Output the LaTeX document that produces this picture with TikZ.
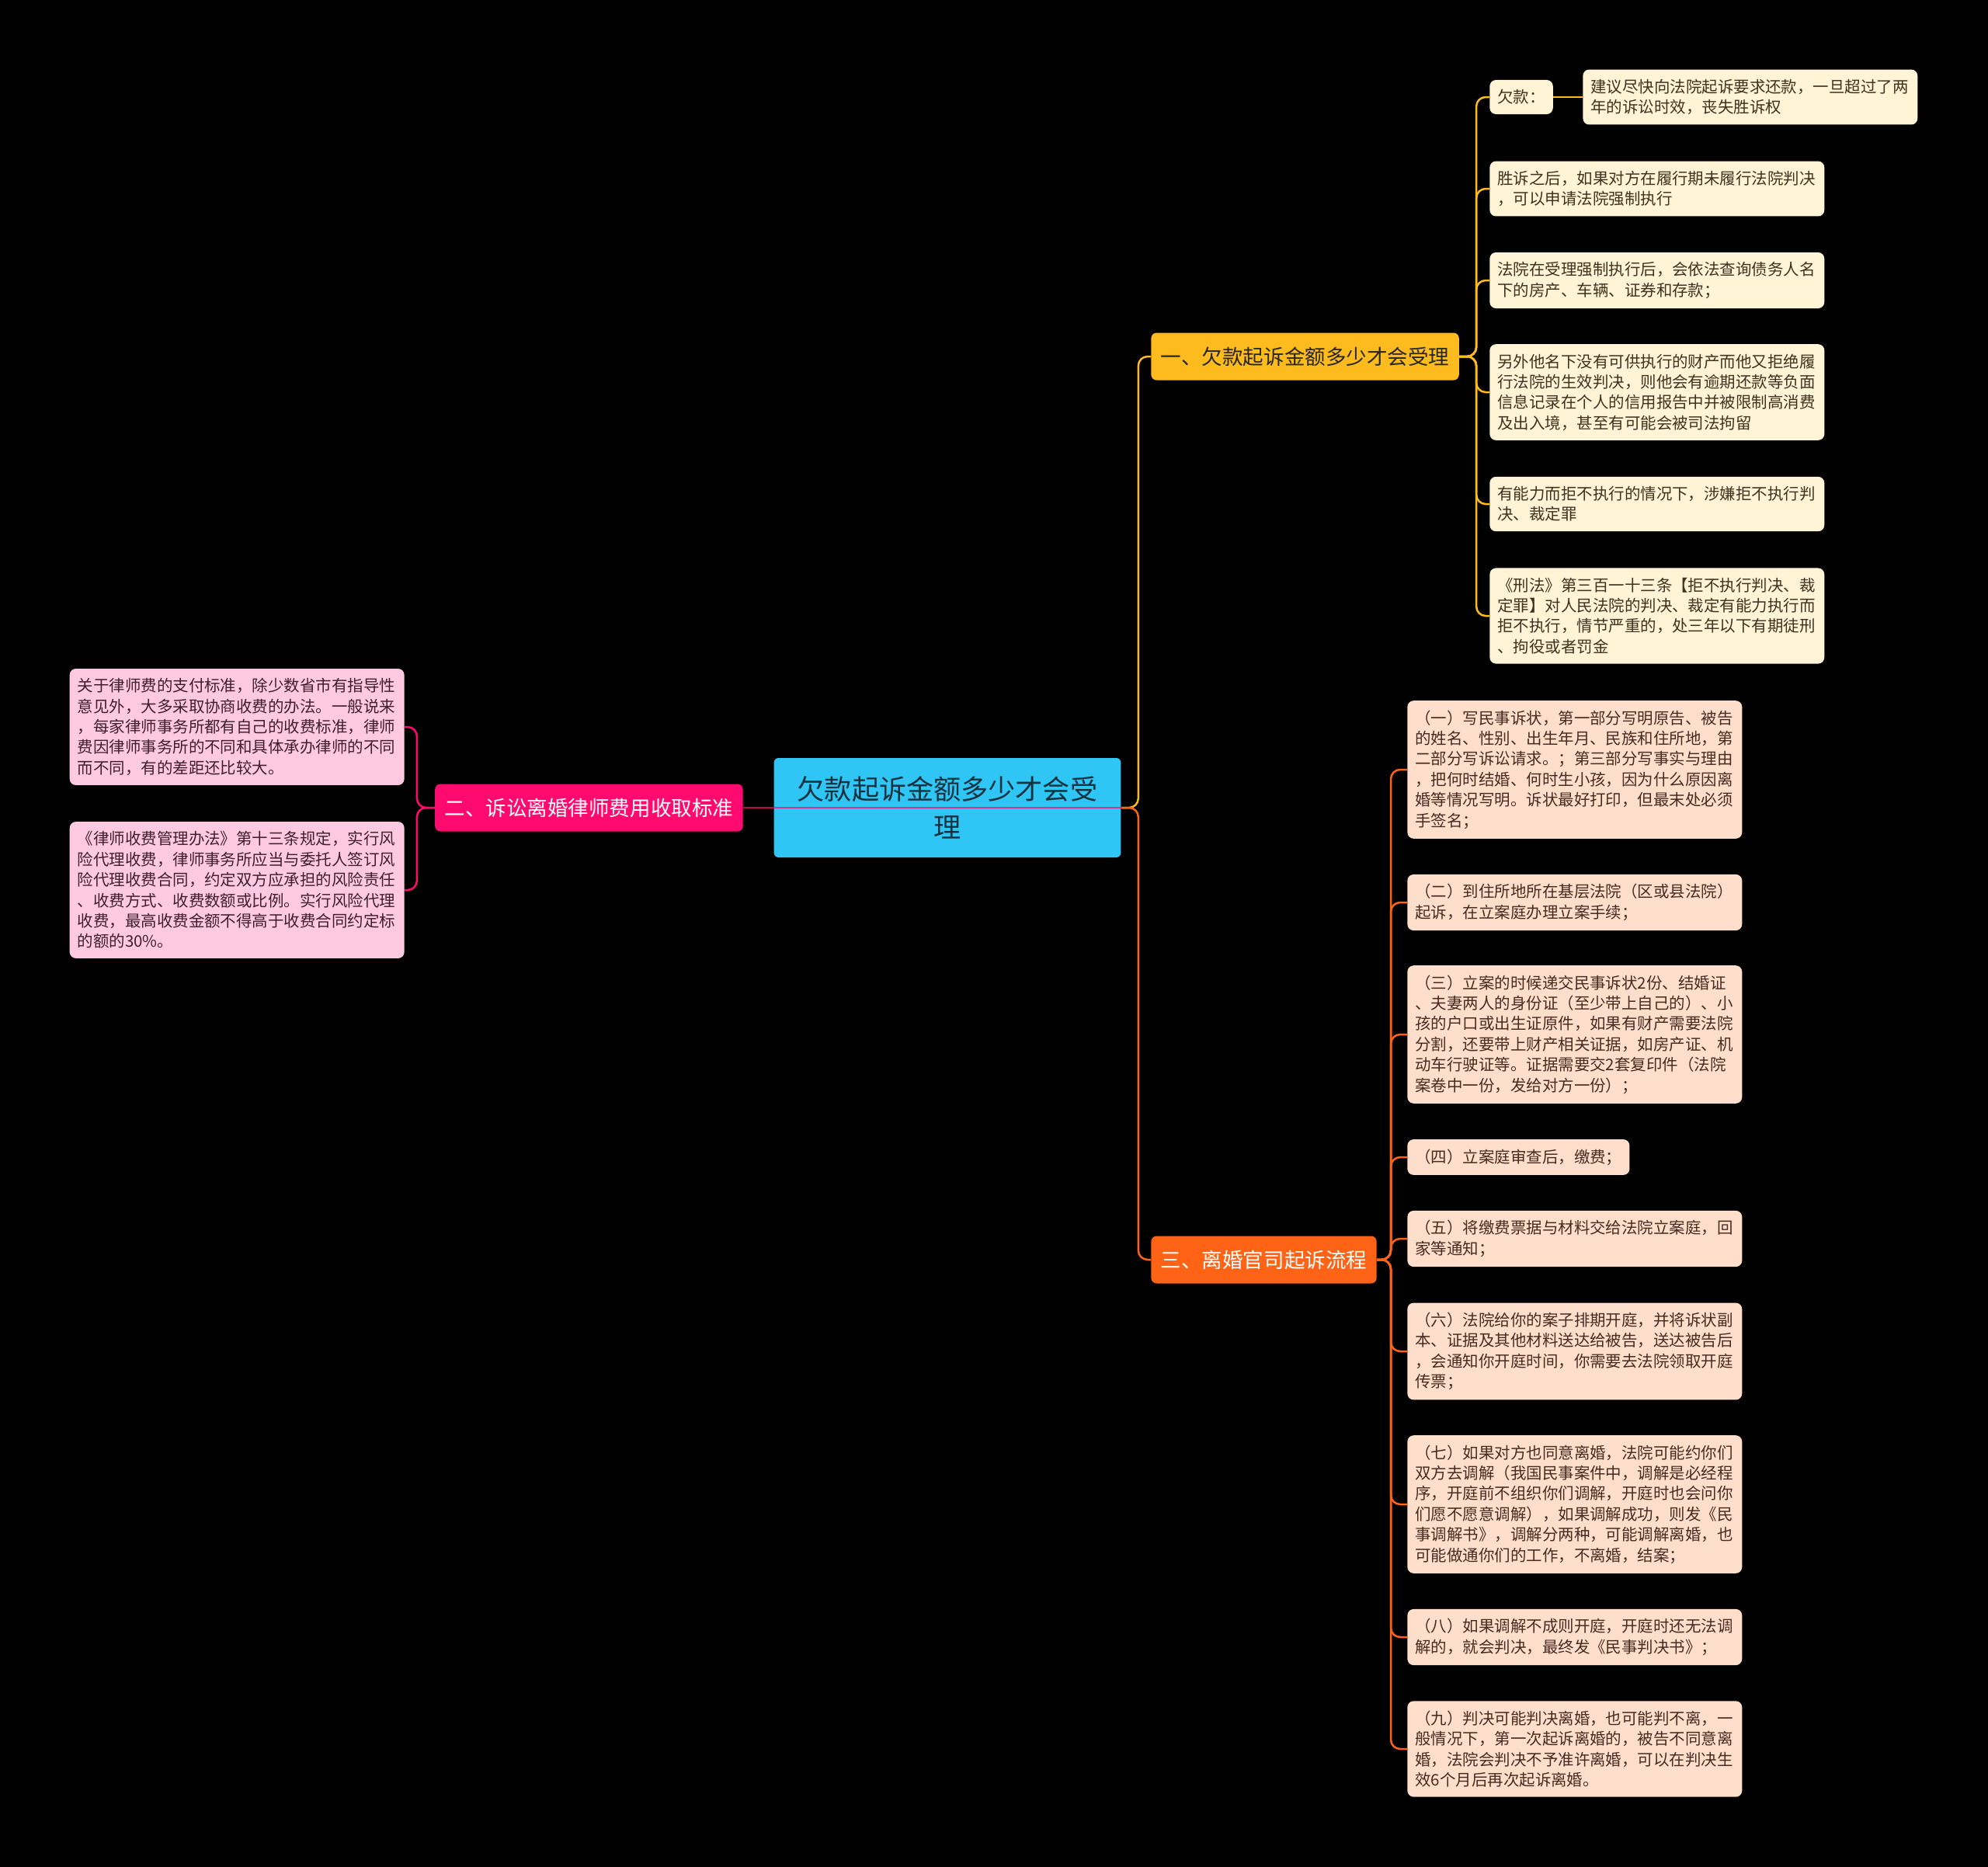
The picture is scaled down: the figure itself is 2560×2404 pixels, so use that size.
\documentclass[tikz,border=0pt]{standalone}
\usepackage{fontspec}
\newfontfamily\cjk{Noto Sans CJK SC}
\definecolor{rootfill}{HTML}{2FC6F5}
\definecolor{roottext}{HTML}{17323F}
\definecolor{onefill}{HTML}{FDBB1E}
\definecolor{twofill}{HTML}{FF0A6E}
\definecolor{threefill}{HTML}{FF6316}
\definecolor{oneleaf}{HTML}{FFF4D6}
\definecolor{twoleaf}{HTML}{FFC9E2}
\definecolor{threeleaf}{HTML}{FFDFCC}
\definecolor{onetext}{HTML}{3D3320}
\definecolor{twotext}{HTML}{3F1F2F}
\definecolor{threetext}{HTML}{4A2A20}

\tikzset{
  leaf/.style={rounded corners=0.16cm, inner xsep=0.2cm, inner ysep=0.25cm,
    align=left, anchor=west, font=\cjk\fontsize{11.65}{15}\selectfont},
  wideleaf/.style={leaf, text width=8.22cm},
  branch/.style={rounded corners=0.14cm, inner xsep=0.25cm, minimum height=1.22cm,
    anchor=west, font=\cjk\fontsize{15.1}{18}\selectfont},
  conn/.style={line width=0.05cm, rounded corners=0.24cm},
}

\begin{document}
\begin{tikzpicture}[x=0.02cm,y=-0.02cm]
\fill[black] (0,0) rectangle (2560,2404);
\useasboundingbox (0,0) rectangle (2560,2404);

% root and main branches
\node[fill=rootfill, text=roottext, rounded corners=0.12cm, minimum width=8.94cm,
  minimum height=2.56cm, align=center, font=\cjk\fontsize{20}{27.8}\selectfont]
  (root) at (1220,1040) {欠款起诉金额多少才会受\\理};
\node[branch, fill=onefill, text=black!85] (b1) at (1482,459) {一、欠款起诉金额多少才会受理};
\node[branch, fill=twofill, text=white, anchor=east] (b2) at (957,1040) {二、诉讼离婚律师费用收取标准};
\node[branch, fill=threefill, text=white] (b3) at (1482,1622) {三、离婚官司起诉流程};

% branch one
\node[leaf, fill=oneleaf, text=onetext] (q1) at (1918,125) {欠款：};
\node[wideleaf, fill=oneleaf, text=onetext] (q1a) at (2038,125) {建议尽快向法院起诉要求还款，一旦超过了两\\年的诉讼时效，丧失胜诉权};
\node[wideleaf, fill=oneleaf, text=onetext] (q2) at (1918,243) {胜诉之后，如果对方在履行期未履行法院判决\\，可以申请法院强制执行};
\node[wideleaf, fill=oneleaf, text=onetext] (q3) at (1918,361) {法院在受理强制执行后，会依法查询债务人名\\下的房产、车辆、证券和存款；};
\node[wideleaf, fill=oneleaf, text=onetext] (q4) at (1918,505) {另外他名下没有可供执行的财产而他又拒绝履\\行法院的生效判决，则他会有逾期还款等负面\\信息记录在个人的信用报告中并被限制高消费\\及出入境，甚至有可能会被司法拘留};
\node[wideleaf, fill=oneleaf, text=onetext] (q5) at (1918,649) {有能力而拒不执行的情况下，涉嫌拒不执行判\\决、裁定罪};
\node[wideleaf, fill=oneleaf, text=onetext] (q6) at (1918,793) {《刑法》第三百一十三条【拒不执行判决、裁\\定罪】对人民法院的判决、裁定有能力执行而\\拒不执行，情节严重的，处三年以下有期徒刑\\、拘役或者罚金};

% branch two
\node[wideleaf, fill=twoleaf, text=twotext, anchor=east] (f1) at (521,936) {关于律师费的支付标准，除少数省市有指导性\\意见外，大多采取协商收费的办法。一般说来\\，每家律师事务所都有自己的收费标准，律师\\费因律师事务所的不同和具体承办律师的不同\\而不同，有的差距还比较大。};
\node[wideleaf, fill=twoleaf, text=twotext, anchor=east] (f2) at (521,1146) {《律师收费管理办法》第十三条规定，实行风\\险代理收费，律师事务所应当与委托人签订风\\险代理收费合同，约定双方应承担的风险责任\\、收费方式、收费数额或比例。实行风险代理\\收费，最高收费金额不得高于收费合同约定标\\的额的30\%。};

% branch three
\node[wideleaf, fill=threeleaf, text=threetext] (s1) at (1812,991) {（一）写民事诉状，第一部分写明原告、被告\\的姓名、性别、出生年月、民族和住所地，第\\二部分写诉讼请求。；第三部分写事实与理由\\，把何时结婚、何时生小孩，因为什么原因离\\婚等情况写明。诉状最好打印，但最末处必须\\手签名；};
\node[wideleaf, fill=threeleaf, text=threetext] (s2) at (1812,1162) {（二）到住所地所在基层法院（区或县法院）\\起诉，在立案庭办理立案手续；};
\node[wideleaf, fill=threeleaf, text=threetext] (s3) at (1812,1332) {（三）立案的时候递交民事诉状2份、结婚证\\、夫妻两人的身份证（至少带上自己的）、小\\孩的户口或出生证原件，如果有财产需要法院\\分割，还要带上财产相关证据，如房产证、机\\动车行驶证等。证据需要交2套复印件（法院\\案卷中一份，发给对方一份）；};
\node[leaf, fill=threeleaf, text=threetext] (s4) at (1812,1490) {（四）立案庭审查后，缴费；};
\node[wideleaf, fill=threeleaf, text=threetext] (s5) at (1812,1595) {（五）将缴费票据与材料交给法院立案庭，回\\家等通知；};
\node[wideleaf, fill=threeleaf, text=threetext] (s6) at (1812,1740) {（六）法院给你的案子排期开庭，并将诉状副\\本、证据及其他材料送达给被告，送达被告后\\，会通知你开庭时间，你需要去法院领取开庭\\传票；};
\node[wideleaf, fill=threeleaf, text=threetext] (s7) at (1812,1937) {（七）如果对方也同意离婚，法院可能约你们\\双方去调解（我国民事案件中，调解是必经程\\序，开庭前不组织你们调解，开庭时也会问你\\们愿不愿意调解），如果调解成功，则发《民\\事调解书》，调解分两种，可能调解离婚，也\\可能做通你们的工作，不离婚，结案；};
\node[wideleaf, fill=threeleaf, text=threetext] (s8) at (1812,2108) {（八）如果调解不成则开庭，开庭时还无法调\\解的，就会判决，最终发《民事判决书》；};
\node[wideleaf, fill=threeleaf, text=threetext] (s9) at (1812,2252) {（九）判决可能判决离婚，也可能判不离，一\\般情况下，第一次起诉离婚的，被告不同意离\\婚，法院会判决不予准许离婚，可以在判决生\\效6个月后再次起诉离婚。};

% connectors
\draw[conn, onefill] (root.east) -- ++(22,0) |- (b1.west);
\draw[conn, threefill] (root.east) -- ++(22,0) |- (b3.west);
\draw[conn, twofill, opacity=0.75] (b2.east) -- (root.east);
\foreach \n in {q1,q2,q3,q4,q5,q6}
  \draw[conn, onefill] (b1.east) -- ++(22,0) |- (\n.west);
\draw[conn, onefill] (q1.east) -- (q1a.west);
\foreach \n in {f1,f2}
  \draw[conn, twofill] (b2.west) -- ++(-23,0) |- (\n.east);
\foreach \n in {s1,s2,s3,s4,s5,s6,s7,s8,s9}
  \draw[conn, threefill] (b3.east) -- ++(18,0) |- (\n.west);
\end{tikzpicture}
\end{document}
